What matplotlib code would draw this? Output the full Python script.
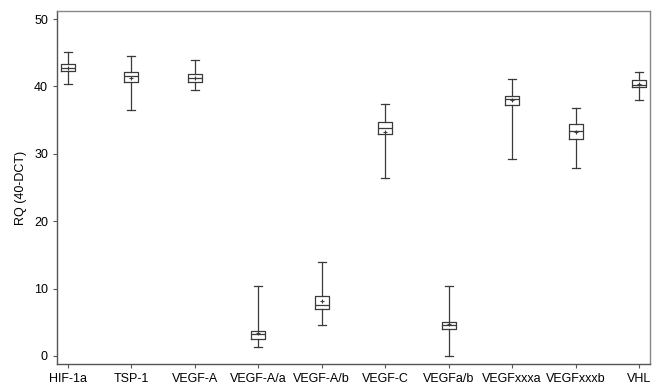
import matplotlib.pyplot as plt

genes = ['HIF-1a', 'TSP-1', 'VEGF-A', 'VEGF-A/a', 'VEGF-A/b', 'VEGF-C',
         'VEGFa/b', 'VEGFxxxa', 'VEGFxxxb', 'VHL']
whislo = [40.3, 36.5, 39.4, 1.3, 4.6, 26.4, 0.0, 29.3, 27.9, 38.0]
q1 = [42.3, 40.6, 40.7, 2.5, 7.0, 32.9, 4.05, 37.2, 32.15, 39.9]
med = [42.8, 41.5, 41.3, 3.3, 7.6, 33.9, 4.6, 38.1, 33.4, 40.25]
q3 = [43.4, 42.2, 41.8, 3.75, 8.95, 34.7, 5.1, 38.6, 34.5, 40.9]
whishi = [45.1, 44.5, 43.9, 10.4, 14.0, 37.4, 10.4, 41.05, 36.8, 42.2]
means = [42.7, 41.3, 41.3, 3.4, 8.2, 33.3, 4.8, 38.0, 33.2, 40.4]

plt.rcParams['font.family'] = ['Liberation Sans', 'DejaVu Sans']

stats = []
for i, g in enumerate(genes):
    stats.append(dict(label=g, whislo=whislo[i], q1=q1[i], med=med[i],
                      q3=q3[i], whishi=whishi[i], mean=means[i], fliers=[]))

fig = plt.figure(figsize=(6.59, 3.86), dpi=100)
ax = fig.add_axes([0.0865, 0.057, 0.8998, 0.9145])

lc = '#3a3a3a'
ax.bxp(stats, positions=range(len(genes)), widths=0.22, showmeans=True,
       showfliers=False, capwidths=0.12,
       boxprops=dict(color=lc, linewidth=0.9),
       medianprops=dict(color=lc, linewidth=0.9),
       whiskerprops=dict(color=lc, linewidth=0.9),
       capprops=dict(color=lc, linewidth=0.9),
       meanprops=dict(marker='+', markeredgecolor=lc, markersize=3.5,
                      markeredgewidth=0.8))

ax.set_xlim(-0.17, len(genes) - 1 + 0.17)
ax.set_ylim(-1.2, 51.2)
ax.set_yticks([0, 10, 20, 30, 40, 50])
ax.set_xticks(range(len(genes)))
ax.set_xticklabels(genes)
ax.set_ylabel('RQ (40-DCT)', fontsize=9, labelpad=5)
ax.tick_params(labelsize=9, length=3, color='#555555', width=0.8)

for s in ['left', 'bottom']:
    ax.spines[s].set_color('#555555')
    ax.spines[s].set_linewidth(1.0)
for s in ['top', 'right']:
    ax.spines[s].set_color('#888888')
    ax.spines[s].set_linewidth(1.0)

plt.savefig('out.png', dpi=100)
plt.close()
